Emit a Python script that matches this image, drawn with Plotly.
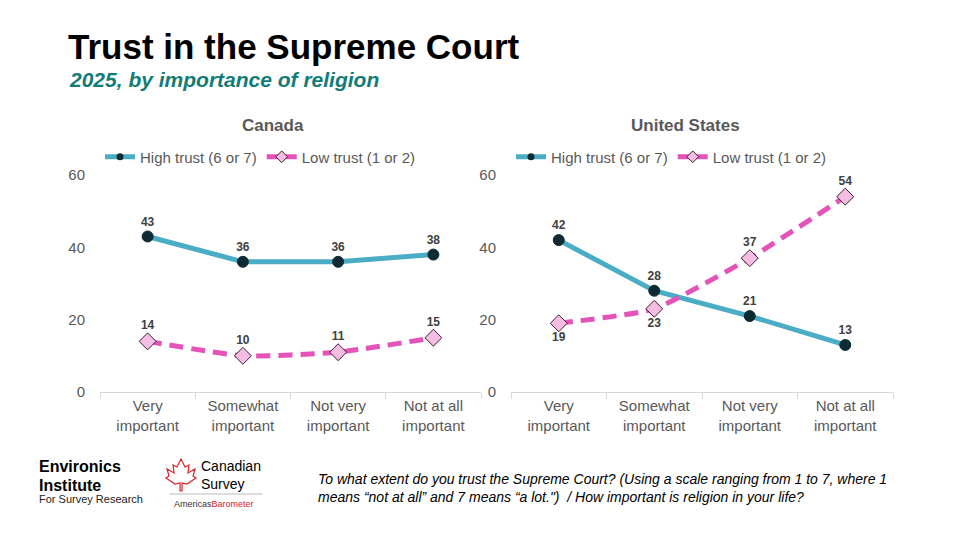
import plotly.graph_objects as go
from plotly.subplots import make_subplots

categories = ["Very<br>important", "Somewhat<br>important", "Not very<br>important", "Not at all<br>important"]
canada_high = [43, 36, 36, 38]
canada_low = [14, 10, 11, 15]
us_high = [42, 28, 21, 13]
us_low = [19, 23, 37, 54]
us_low_textpos = ["bottom center", "bottom center", "top center", "top center"]

TEAL = "#4BACC6"
PINK = "#E553B8"
GRAY = "#595959"
FONT = "Liberation Sans, Arial, sans-serif"

# page body adds an 8px margin, so pixel positions are shifted back by it
W, H, OFF = 960, 540, 8


def px(x):
    return (x - OFF) / W


def py(y):
    return 1 - (y - OFF) / H


fig = make_subplots(rows=1, cols=2, horizontal_spacing=0.03)

high_line = dict(color=TEAL, width=5)
low_line = dict(color=PINK, width=5, dash="14px,8px", shape="spline", smoothing=0.5)


def add_pair(col, high, low, low_pos, legend):
    fig.add_trace(go.Scatter(
        x=categories, y=high, name="High trust (6 or 7)", mode="lines+markers+text",
        line=high_line,
        marker=dict(color="#0E2A33", size=11, line=dict(color="#0E2A33", width=1)),
        text=[str(v) for v in high], textposition="top center",
        textfont=dict(size=12, color="#404040", family=FONT, weight="bold"),
        showlegend=False, cliponaxis=False,
    ), row=1, col=col)
    fig.add_trace(go.Scatter(
        x=categories, y=low, name="Low trust (1 or 2)", mode="lines+markers+text",
        line=low_line,
        marker=dict(color="#F5BDE3", size=13, symbol="diamond", line=dict(color="#3A2030", width=1)),
        text=[str(v) for v in low], textposition=low_pos,
        textfont=dict(size=12, color="#404040", family=FONT, weight="bold"),
        showlegend=False, cliponaxis=False,
    ), row=1, col=col)
    # legend entries with smaller symbols, as in the reference
    fig.add_trace(go.Scatter(
        x=[None], y=[None], name="High trust (6 or 7)", mode="lines+markers",
        line=high_line, marker=dict(color="#0E2A33", size=7), legend=legend,
    ), row=1, col=col)
    fig.add_trace(go.Scatter(
        x=[None], y=[None], name="Low trust (1 or 2)", mode="lines+markers",
        line=dict(color=PINK, width=5), marker=dict(color="#F5BDE3", size=9, symbol="diamond",
                                                    line=dict(color="#3A2030", width=1)),
        legend=legend,
    ), row=1, col=col)


add_pair(1, canada_high, canada_low, "top center", "legend")
add_pair(2, us_high, us_low, us_low_textpos, "legend2")

for i, (x0, x1) in enumerate([(100, 481), (511, 893)], start=1):
    fig.update_xaxes(domain=[px(x0), px(x1)], range=[-0.5, 3.5], showline=True, linecolor="#D9D9D9",
                     linewidth=1, ticks="outside", tickson="boundaries", tickcolor="#D9D9D9", ticklen=6,
                     showgrid=False, automargin=False,
                     tickfont=dict(size=15, color=GRAY, family=FONT), row=1, col=i)
    fig.update_yaxes(domain=[py(392), py(175)], range=[0, 60], dtick=20, showgrid=False,
                     zeroline=False, showline=False, ticks="", ticklabelstandoff=14,
                     automargin=False, tickfont=dict(size=15, color=GRAY, family=FONT), row=1, col=i)

legend_style = dict(orientation="h", yanchor="middle", y=py(157), xanchor="left",
                    font=dict(size=15, color=GRAY, family=FONT), bgcolor="rgba(0,0,0,0)",
                    itemwidth=30, tracegroupgap=0)

fig.update_layout(
    width=W, height=H,
    margin=dict(l=0, r=0, t=0, b=0, autoexpand=False),
    plot_bgcolor="white", paper_bgcolor="white",
    font=dict(family=FONT),
    legend=dict(legend_style, x=px(100)),
    legend2=dict(legend_style, x=px(511)),
)

anns = [
    dict(text="<b>Trust in the Supreme Court</b>", x=66, y=46, size=35, color="black"),
    dict(text="<b><i>2025, by importance of religion</i></b>", x=67, y=79, size=21, color="#127C77"),
    dict(text="<b>Environics</b>", x=37, y=466, size=16, color="black"),
    dict(text="<b>Institute</b>", x=37, y=485, size=16, color="black"),
    dict(text="For Survey Research", x=37, y=499, size=11, color="#222222"),
    dict(text="Canadian", x=199, y=466, size=14, color="black"),
    dict(text="Survey", x=199, y=484, size=14, color="black"),
    dict(text="Americas<span style='color:#D8232A'>Barometer</span>", x=172, y=504, size=9, color="#333333"),
]
for a in anns:
    fig.add_annotation(text=a["text"], x=px(a["x"]), y=py(a["y"]), xref="paper", yref="paper",
                       xanchor="left", yanchor="middle", showarrow=False,
                       font=dict(size=a["size"], color=a["color"], family=FONT))

for name, cx in [("Canada", 273), ("United States", 685)]:
    fig.add_annotation(text="<b>" + name + "</b>", x=px(cx), y=py(125), xref="paper", yref="paper",
                       xanchor="center", yanchor="middle", showarrow=False,
                       font=dict(size=17, color=GRAY, family=FONT))

fig.add_annotation(
    text="<i>To what extent do you trust the Supreme Court? (Using a scale ranging from 1 to 7, where 1<br>"
         "means \u201cnot at all\u201d and 7 means \u201ca lot.\")  / How important is religion in your life?</i>",
    x=px(316), y=py(488), xref="paper", yref="paper", xanchor="left", yanchor="middle",
    align="left", showarrow=False,
    font=dict(size=14, color="black", family="Liberation Sans Narrow, Arial Narrow, sans-serif"))

# logo divider and simple maple leaf outline
fig.add_shape(type="line", x0=px(170), x1=px(262), y0=py(494), y1=py(494),
              xref="paper", yref="paper", line=dict(color="#BBBBBB", width=1))
leaf = [(181, 459), (185, 467), (189, 465), (188, 473), (195, 469), (193, 476), (196, 478),
        (187, 484), (182, 483), (182, 491), (180, 491), (180, 483), (175, 484), (166, 478),
        (169, 476), (167, 469), (174, 473), (173, 465), (177, 467)]
path = "M " + " L ".join(f"{px(a):.5f},{py(b):.5f}" for a, b in leaf) + " Z"
fig.add_shape(type="path", path=path, xref="paper", yref="paper",
              line=dict(color="#D8232A", width=1.2))

fig.write_html("out.html")
